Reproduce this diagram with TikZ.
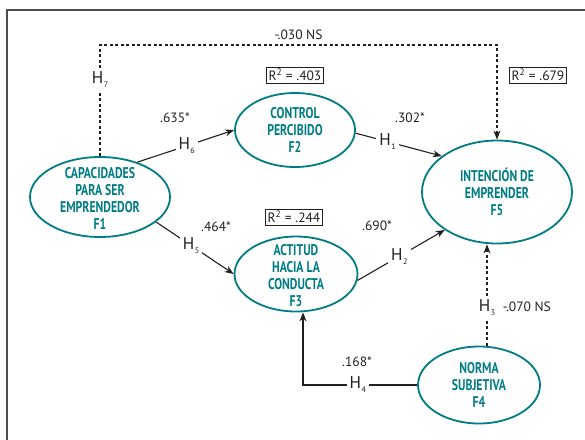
\documentclass[tikz,border=0pt]{standalone}
\usepackage{fontspec}
\setmainfont{PT Sans}
\newfontfamily\condfont{PT Sans}[FakeStretch=0.76]
\usetikzlibrary{shapes.geometric,arrows.meta,positioning}
\definecolor{factcol}{RGB}{0,125,132}
\definecolor{inkcol}{RGB}{35,31,32}
\definecolor{framecol}{RGB}{77,77,77}
\newcommand{\hyp}[1]{H\kern0.5pt\raisebox{-4pt}{\fontsize{8}{8}\selectfont #1}}

\begin{document}
\begin{tikzpicture}[x=1pt, y=-1pt,
	factor/.style={shape=ellipse, draw=factcol, line width=1.8pt, inner sep=0pt},
	factxt/.style={anchor=center, align=center, text=factcol, font=\condfont\bfseries\fontsize{15.5}{17}\selectfont},
	hlbl/.style={fill=white, inner sep=3pt, text=inkcol, font=\fontsize{17}{17}\selectfont},
	coef/.style={text=inkcol, inner sep=1pt, font=\fontsize{13.5}{13.5}\selectfont},
	rbox/.style={draw=inkcol, line width=0.8pt, inner sep=2pt, text=inkcol, font=\fontsize{13.5}{13.5}\selectfont},
	solidarrow/.style={draw=inkcol, line width=1.1pt, -{Stealth[length=9pt, width=7pt]}},
	dotarrow/.style={solidarrow, dash pattern=on 3pt off 2.5pt}]
	\useasboundingbox (0,0) rectangle (585,439);
	% Frame:
	\draw[framecol, line width=1.4pt] (7,445) |- (592,10);
	% Factors:
	\node[factor, minimum width=140pt, minimum height=80pt] (f1) at (100,197) {};
	\node[factxt] at ([yshift=-1pt]f1) {CAPACIDADES\\PARA SER\\EMPRENDEDOR\\F1};
	\node[factor, minimum width=120pt, minimum height=74pt] (f2) at (295,130) {};
	\node[factxt] at (f2) {CONTROL\\PERCIBIDO\\F2};
	\node[factor, minimum width=123pt, minimum height=75pt] (f3) at (296,274) {};
	\node[factxt] at ([yshift=-2pt]f3) {ACTITUD\\HACIA LA\\CONDUCTA\\F3};
	\node[factor, minimum width=122pt, minimum height=77pt] (f4) at (479,385) {};
	\node[factxt] at (f4) {NORMA\\SUBJETIVA\\F4};
	\node[factor, minimum width=150pt, minimum height=103pt] (f5) at (497,192) {};
	\node[factxt] at (f5) {INTENCIÓN DE\\EMPRENDER\\F5};
	% R2 boxes:
	\node[rbox] (r2) at (295,75) {R\textsuperscript{2} = .403};
	\node[rbox] (r3) at (294,217) {R\textsuperscript{2} = .244};
	\node[rbox] (r5) at (538,75) {R\textsuperscript{2} = .679};
	% Paths:
	\coordinate (top) at (300,45);
	\draw[dotarrow] (f1.north) -- node[hlbl, pos=0.69] {\hyp{7}} (f1.north |- top) -- node[coef, above=4pt] {-.030 NS} (f5.north |- top) -- (f5.north);
	\draw[solidarrow] (f1.43) -- node[hlbl, pos=0.51] {\hyp{6}} (f2.west);
	\draw[solidarrow] (f1.-24) -- node[hlbl, pos=0.45] {\hyp{5}} (f3.west);
	\draw[solidarrow] (f2.-3) -- node[hlbl, pos=0.37] {\hyp{1}} (f5.147);
	\draw[solidarrow] (f3.-6) -- node[hlbl, pos=0.48] {\hyp{2}} (f5.216);
	\draw[solidarrow] (f4.west) -| node[hlbl, pos=0.26] {\hyp{4}} ([xshift=7pt]f3.south);
	\draw[dotarrow] ([xshift=8pt]f4.north) -- node[hlbl, pos=0.38] (h3) {\hyp{3}} ([xshift=-10pt]f5.south);
	\node[coef, right=3pt of h3] (b3) {-.070 NS};
	% Coefficients:
	\node[coef] (b6) at (175,118) {.635*};
	\node[coef] (b5) at (216,227) {.464*};
	\node[coef] (b1) at (410,118) {.302*};
	\node[coef] (b2) at (377,226) {.690*};
	\node[coef] (b4) at (357,362) {.168*};
\end{tikzpicture}
\end{document}
